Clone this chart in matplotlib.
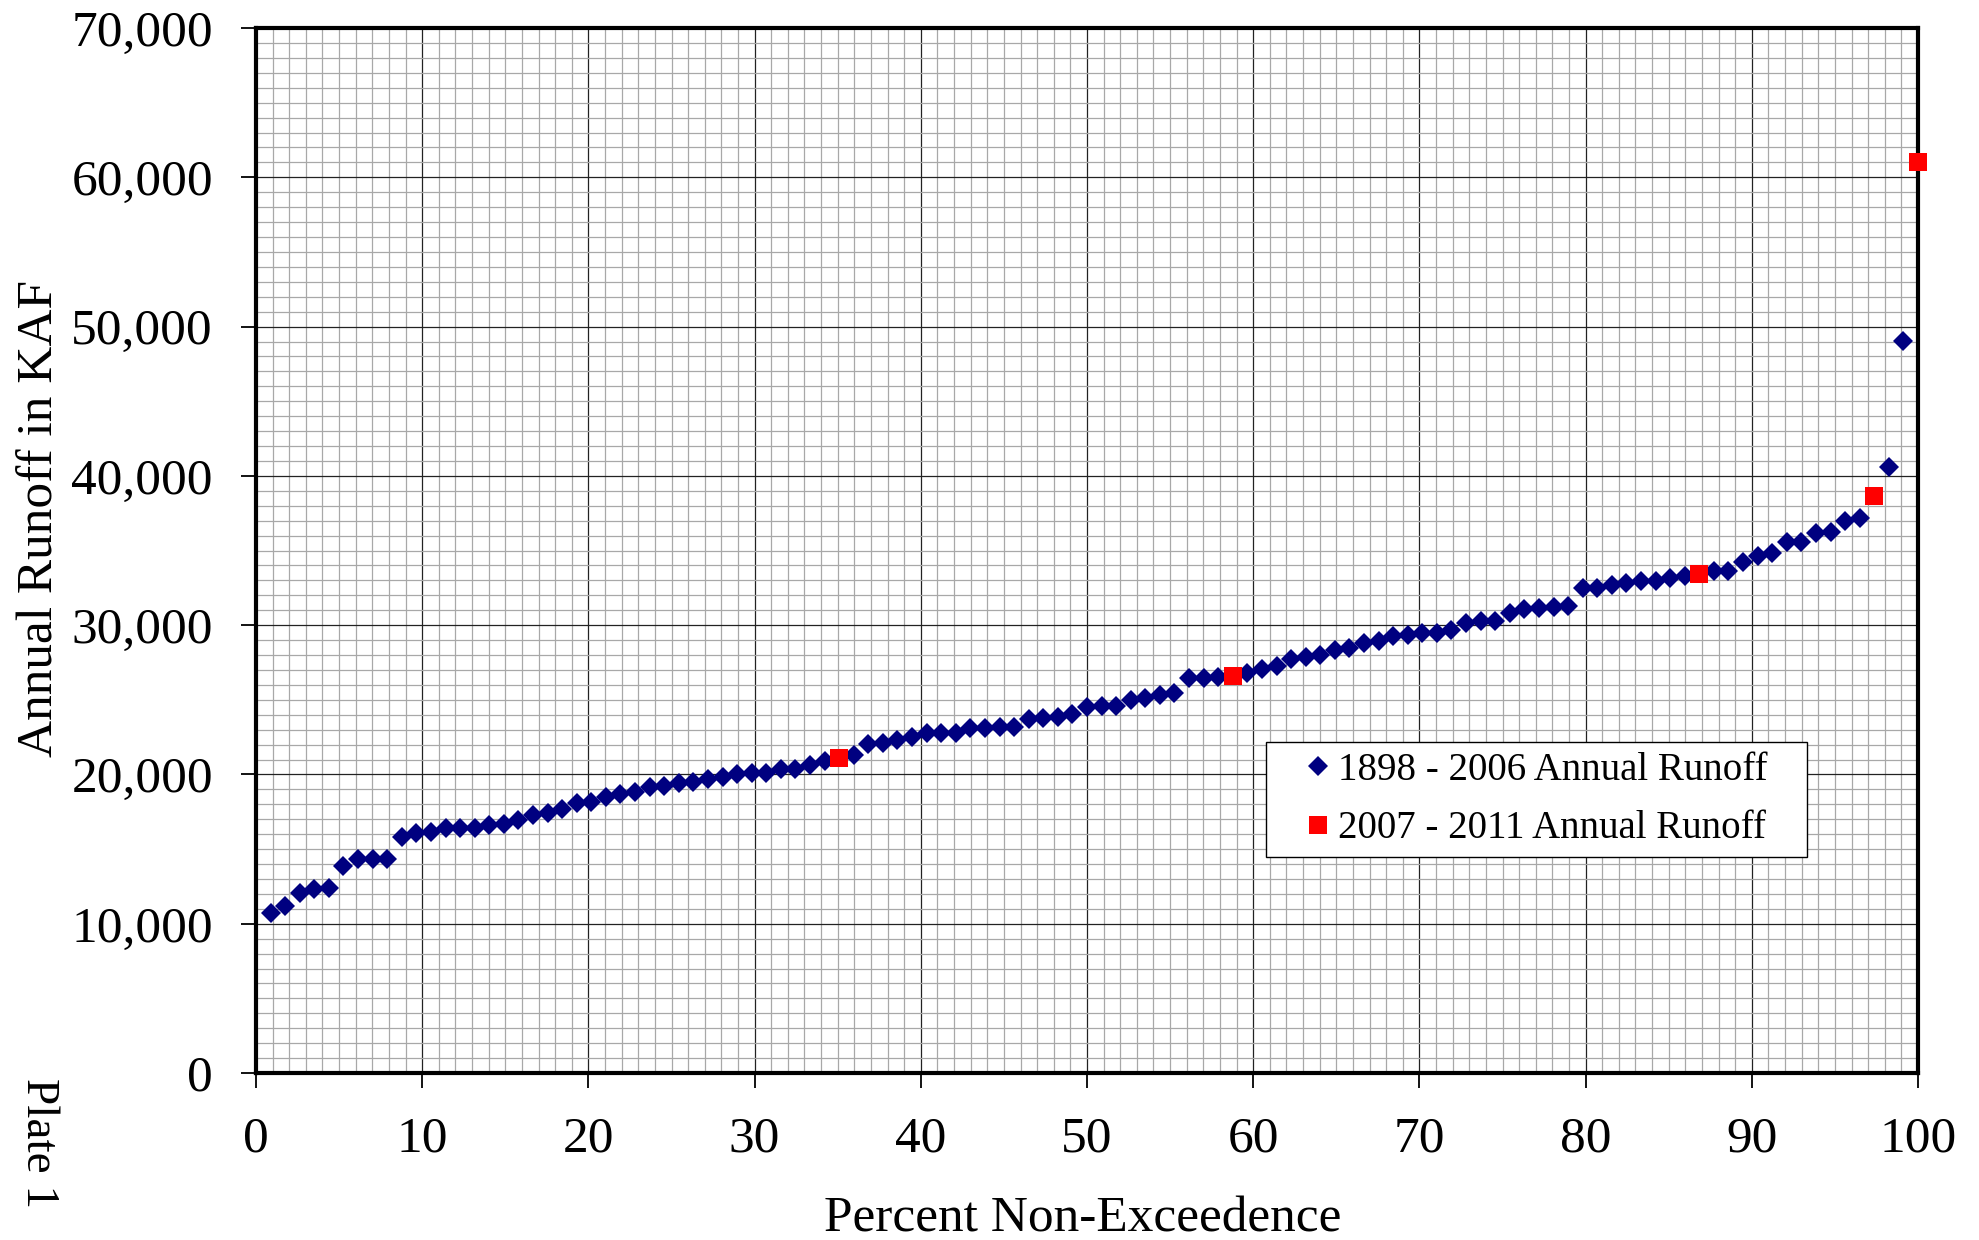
import matplotlib
matplotlib.use('Agg')
import matplotlib.pyplot as plt
from matplotlib.ticker import MultipleLocator, FuncFormatter

plt.rcParams['font.family'] = ['Liberation Serif', 'DejaVu Serif']

# Annual runoff (KAF), sorted
blue_runoff = [
    10700, 11190, 12080, 12320, 12410, 13860, 14310, 14310, 14310, 15790,
    16050, 16160, 16390, 16390, 16390, 16610, 16680, 16950, 17250, 17400,
    17660, 18100, 18150, 18460, 18660, 18840, 19180, 19220, 19400, 19470,
    19690, 19800, 20030, 20070, 20110, 20340, 20360, 20650, 20920, 21300,
    22040, 22080, 22300, 22530, 22750, 22750, 22800, 23090, 23130, 23150,
    23150, 23720, 23760, 23830, 24050, 24550, 24560, 24580, 24980, 25090,
    25320, 25480, 26440, 26440, 26500, 26770, 27040, 27260, 27710, 27840,
    28000, 28330, 28440, 28780, 28920, 29270, 29340, 29450, 29490, 29670,
    30120, 30300, 30300, 30790, 31080, 31120, 31190, 31280, 32460, 32460,
    32690, 32800, 32930, 32970, 33150, 33290, 33600, 33620, 34250, 34630,
    34850, 35550, 35590, 36190, 36210, 36990, 37150, 40610, 49030,
]
red_runoff = [21120, 26590, 33400, 38670, 61000]

blue_label = '1898 - 2006 Annual Runoff'
red_label = '2007 - 2011 Annual Runoff'
x_label = 'Percent Non-Exceedence'
y_label = 'Annual Runoff in KAF'
side_note = 'Plate 1'
x_ticks = [0, 10, 20, 30, 40, 50, 60, 70, 80, 90, 100]
y_ticks = [0, 10000, 20000, 30000, 40000, 50000, 60000, 70000]

# Plotting positions: rank / N * 100 over the combined record
combined = sorted([(v, 'b') for v in blue_runoff] + [(v, 'r') for v in red_runoff])
n = len(combined)
bx, by, rx, ry = [], [], [], []
for i, (v, s) in enumerate(combined):
    p = (i + 1) / n * 100.0
    if s == 'b':
        bx.append(p); by.append(v)
    else:
        rx.append(p); ry.append(v)

fig = plt.figure(figsize=(19.79, 12.40), dpi=100)
ax = fig.add_axes([256/1979, 1 - 1073/1240, (1918-256)/1979, (1073-28)/1240])

ax.set_xlim(0, 100)
ax.set_ylim(0, 70000)
ax.set_xticks(x_ticks)
ax.set_yticks(y_ticks)
ax.xaxis.set_minor_locator(MultipleLocator(1))
ax.yaxis.set_minor_locator(MultipleLocator(1000))
ax.yaxis.set_major_formatter(FuncFormatter(lambda v, p: f'{int(v):,}'))

ax.grid(which='minor', color='#a8a8a8', linewidth=0.9, zorder=0)
ax.grid(which='major', color='#222222', linewidth=0.9, zorder=0)
ax.set_axisbelow(True)

ax.tick_params(which='major', direction='out', length=11, width=1.3,
               labelsize=37, pad=20)
ax.tick_params(which='minor', length=0)
for sp in ax.spines.values():
    sp.set_linewidth(3.0)
    sp.set_color('black')

ax.plot(bx, by, linestyle='none', marker='D', markersize=10.2,
        color='#000080', markeredgewidth=0, label=blue_label, zorder=3,
        clip_on=False)
ax.plot(rx, ry, linestyle='none', marker='s', markersize=13.2,
        color='#ff0000', markeredgewidth=0, label=red_label, zorder=4,
        clip_on=False)

leg = ax.legend(loc='lower left', bbox_to_anchor=(0.6077, 0.2067, 0.3255, 0.110),
                mode='expand', borderaxespad=0, fontsize=28, frameon=True,
                fancybox=False, edgecolor='black', framealpha=1,
                handlelength=2.2, handletextpad=-0.6, borderpad=0.25,
                labelspacing=0.55, markerscale=0.95)
leg.get_frame().set_linewidth(1.0)

fig.text(1083/1979, 1 - 1231/1240, x_label, fontsize=37,
         ha='center', va='baseline')
fig.text(40/1979, 1 - 519/1240, y_label, rotation=90, fontsize=37,
         ha='center', va='center')
fig.text(38/1979, 1 - 1143/1240, side_note, rotation=-90, fontsize=34,
         ha='center', va='center')

fig.savefig('out.png', dpi=100)
